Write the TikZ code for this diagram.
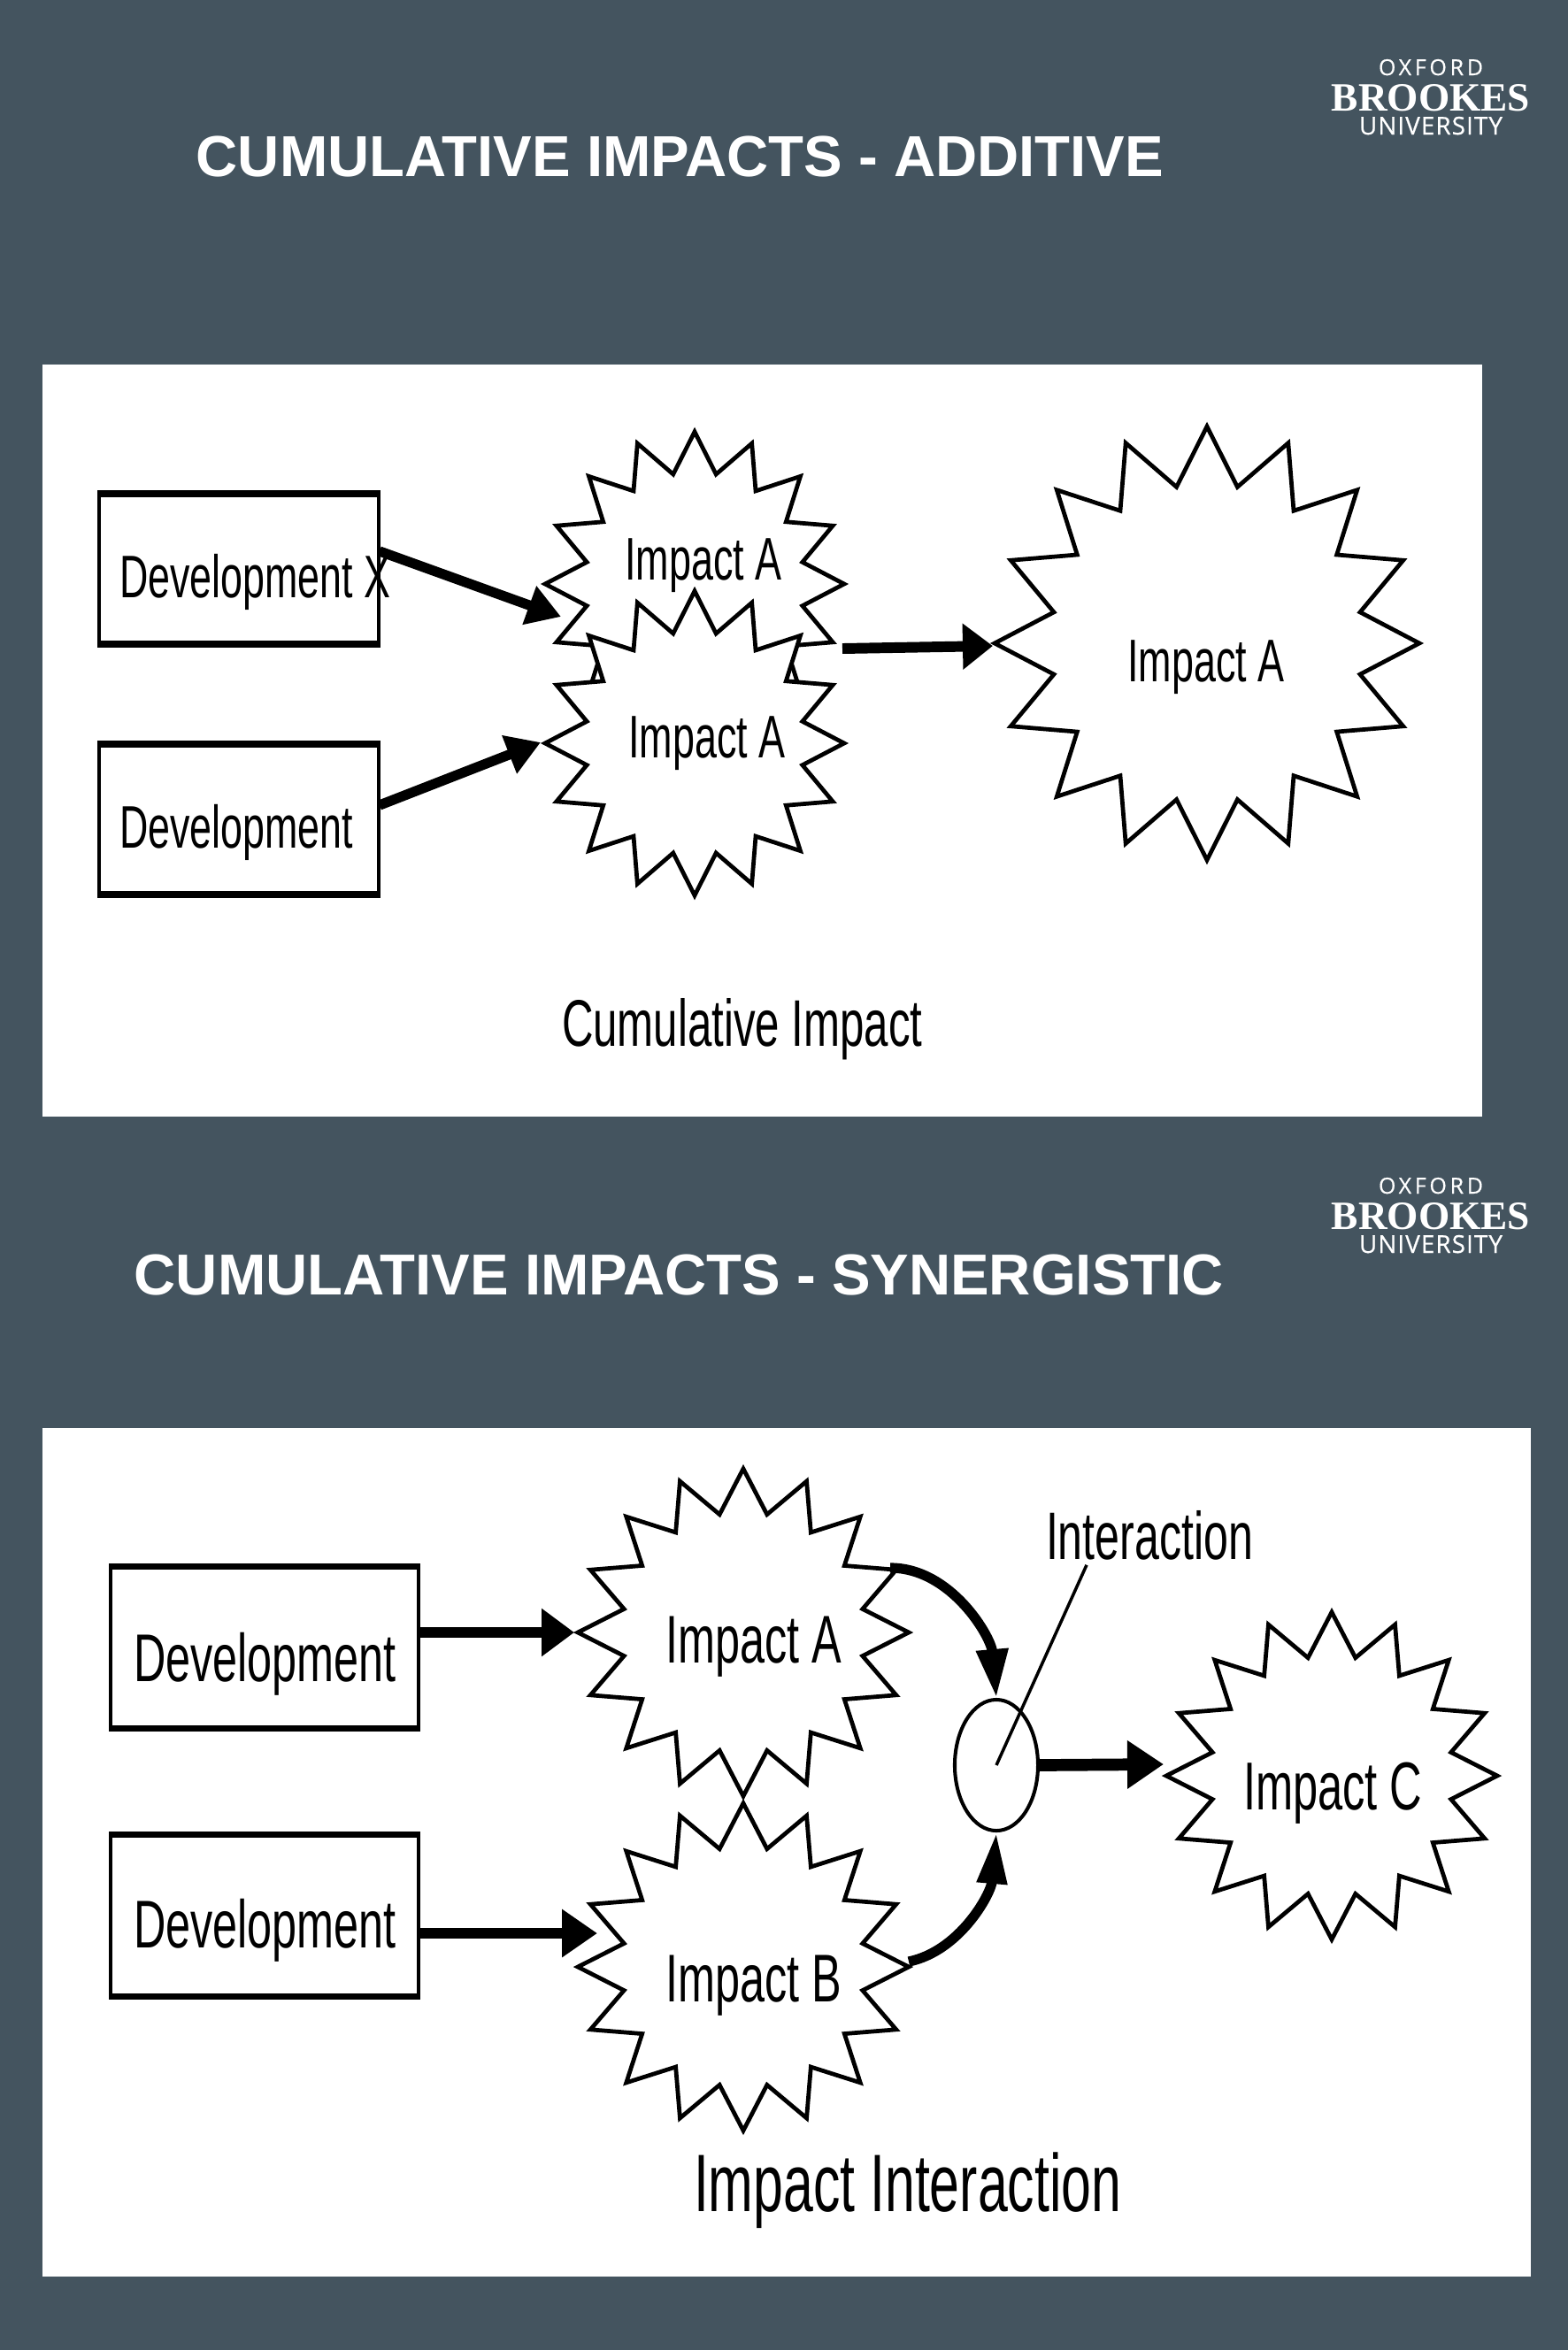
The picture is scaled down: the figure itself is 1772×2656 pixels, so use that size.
\documentclass[tikz,border=0pt]{standalone}
\usepackage{fontspec}
\usetikzlibrary{arrows.meta,shapes.geometric}
\setmainfont{Liberation Sans}
\newfontfamily\dfont[FakeStretch=0.66]{Liberation Sans}
\newfontfamily\lgserif{Liberation Serif}
\newfontfamily\lgsans[FakeBold=0.5]{Open Sans}
\definecolor{slate}{HTML}{44545F}
\newcommand{\dsize}[1]{\dfont\fontsize{#1pt}{#1pt}\selectfont}
\tikzset{
  x=0.01cm,y=-0.01cm,
  panel/.style={fill=white,draw=none},
  devbox/.style={draw=black,fill=white,line width=1.1pt,rectangle,inner sep=0pt},
  burstline/.style={draw=black,fill=white,line width=1.35pt,miter limit=10,line join=miter},
  dlab/.style={inner sep=0pt,outer sep=0pt,text=black,font=\dsize{#1}},
  ttl/.style={inner sep=0pt,anchor=base west,text=white,font=\bfseries\fontsize{18.57pt}{18.57pt}\selectfont},
  shaft/.style={line width=3.2pt,draw=black},
  head/.style n args={2}{-{Triangle[length=#1*0.01cm,width=#2*0.01cm]}},
  lgo/.style={inner sep=0pt,anchor=base,text=white},
}
\newcommand{\burst}[5]{%
  \coordinate (#1) at (#2,#3);
  \draw[burstline] plot[samples at={0,...,31},variable=\k]
    ({#2+#4*ifthenelse(mod(\k,2)==0,1,0.735)*cos(\k*11.25)},
     {#3+#5*ifthenelse(mod(\k,2)==0,1,0.735)*sin(\k*11.25)}) -- cycle;
}
\newcommand{\devrect}[5]{%
  \node[devbox,minimum width=#4*0.01cm,minimum height=#5*0.01cm] (#1) at (#2,#3) {};
  \draw[line width=2.2pt] (#1.north west) -- (#1.north east);
  \draw[line width=2.2pt] (#1.south west) -- (#1.south east);
}
\newcommand{\logomark}[2]{%
  \node[lgo,font=\lgsans\fontsize{7.1pt}{7.1pt}\selectfont\addfontfeature{LetterSpace=15}] (#1ox) at (1617,#2+85) {OXFORD};
  \node[lgo,font=\lgserif\bfseries\fontsize{12.9pt}{12.9pt}\selectfont] (#1br) at (1617,#2+125) {BROOKES};
  \node[lgo,font=\lgsans\fontsize{7.9pt}{7.9pt}\selectfont\addfontfeature{LetterSpace=4}] (#1un) at (1617,#2+152) {UNIVERSITY};
}
\begin{document}
\begin{tikzpicture}
\useasboundingbox (0,0) rectangle (1772,2656);
\fill[slate] (0,0) rectangle (1772,2656);
\fill[panel] (48,412) rectangle (1675,1262);
\fill[panel] (48,1614) rectangle (1730,2573);

% titles and logos
\node[ttl] (t1) at (221,199) {CUMULATIVE IMPACTS - ADDITIVE};
\node[ttl] (t2) at (151,1463) {CUMULATIVE IMPACTS - SYNERGISTIC};
\logomark{la}{0}
\logomark{lb}{1264}

% additive panel
\devrect{d1}{270}{643}{316}{166}
\devrect{d2}{270}{926}{316}{166}
\burst{ia}{785}{660}{169}{172}
\burst{ib}{785}{840}{169}{172}
\burst{ic}{1364}{727}{240}{245}
\node[dlab=19.3,anchor=base west] (d1l) at (135,675) {Development X};
\node[dlab=19.3,anchor=base west] (d2l) at (135,958) {Development};
\node[dlab=19.35,anchor=base] (ial) at (795,655) {Impact A};
\node[dlab=19.35,anchor=base] (ibl) at (799,856) {Impact A};
\node[dlab=19.35,anchor=base] (icl) at (1363,770) {Impact A};
\node[dlab=21.2,anchor=base west] (cap1) at (635,1182) {Cumulative Impact};
\draw[shaft,head={38}{44}] ([shift={(-1,-20)}]d1.east) -- ([shift={(-151,37)}]ia);
\draw[shaft,head={38}{44}] ([shift={(-1,-16)}]d2.east) -- ([shift={(-174,-1)}]ib);
\draw[shaft,line width=3.4pt,head={34}{50}] ([shift={(167,73)}]ia) -- ([shift={(-242,3)}]ic);

% synergistic panel
\devrect{e1}{299}{1862}{348}{179}
\devrect{e2}{299}{2165}{348}{179}
\burst{ja}{840}{1845}{187}{185}
\burst{jb}{840}{2223}{187}{185}
\burst{jc}{1505}{2007}{187}{185}
\node[dlab=21.7,anchor=base west] (e1l) at (151,1900) {Development};
\node[dlab=21.7,anchor=base west] (e2l) at (151,2201) {Development};
\node[dlab=21.7,anchor=base] (jal) at (852,1879) {Impact A};
\node[dlab=21.7,anchor=base] (jbl) at (852,2262) {Impact B};
\node[dlab=21.8,anchor=base west] (jcl) at (1405,2045) {Impact C};
\node[dlab=21.6,anchor=base west] (intl) at (1182,1762) {Interaction};
\node[dlab=26.2,anchor=base west] (cap2) at (784,2499) {Impact Interaction};
\node[draw=black,fill=white,line width=1.15pt,ellipse,inner sep=0pt,minimum width=0.94cm,minimum height=1.48cm] (ell) at (1126,1995) {};
\draw[line width=1pt] (intl.south west) ++(46,6) coordinate (lead) (lead) -- (ell.center);
\draw[shaft] (e1.east) ++(0,-17) coordinate (e1o);
\draw[shaft,head={37}{52}] (e1o) -- ([shift={(-191,0)}]ja);
\draw[shaft] (e2.east) ++(0,20) coordinate (e2o);
\draw[shaft,head={40}{52}] (e2o) -- ([shift={(-165,-38)}]jb);
\draw[shaft,line width=3.2pt,head={55}{34}] ([shift={(166,-73)}]ja) .. controls (1075,1772) and (1120,1850) .. (ell.north);
\draw[shaft,line width=3.2pt,head={58}{32}] ([shift={(187,-6)}]jb) .. controls (1085,2205) and (1120,2140) .. (ell.south);
\draw[shaft,line width=3.9pt,head={41}{52}] (ell.east) -- ([shift={(-190,-13)}]jc);
\end{tikzpicture}
\end{document}
